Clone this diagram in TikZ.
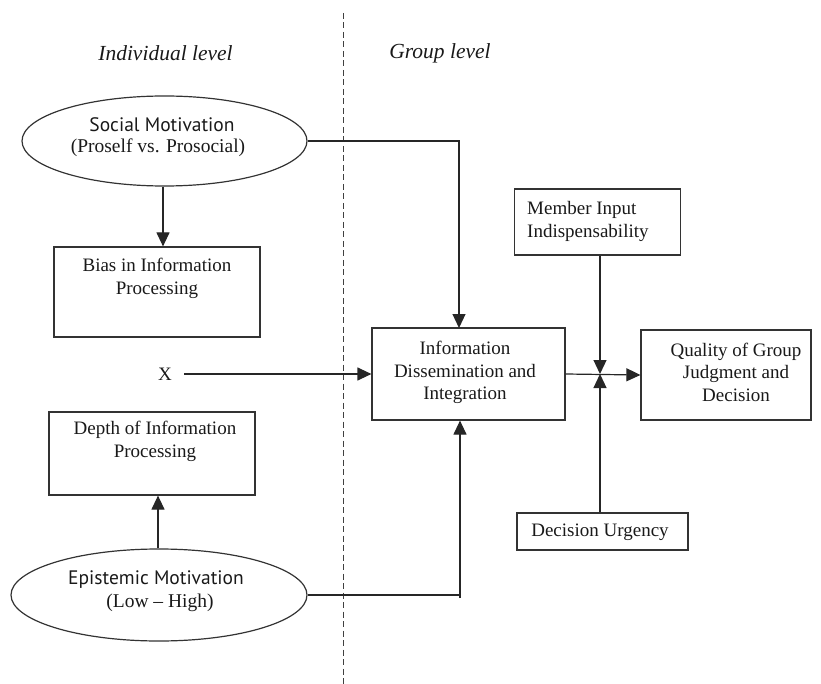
\documentclass[tikz,border=0pt]{standalone}
\usepackage{fontspec}
\setmainfont{Liberation Serif}
\newfontfamily\headsans{PT Sans}
\usetikzlibrary{arrows.meta,shapes.geometric}

\begin{document}
\begin{tikzpicture}[x=1pt,y=-1pt,
  line/.style={draw=black!85, line width=1.2pt},
  arr/.style={line, -{Triangle[length=14pt,width=13pt]}},
  box/.style={draw=black!80, line width=1.2pt, rectangle, inner sep=0pt},
  ell/.style={draw=black!80, line width=1.2pt, ellipse, inner sep=0pt},
  txt/.style={align=center, inner sep=0pt, text=black!90,
    font=\fontsize{19}{22.5}\selectfont},
  txtl/.style={txt, align=left},
  head/.style={align=center, inner sep=0pt, text=black!90,
    font=\headsans\fontsize{19.5}{23}\selectfont},
  sub/.style={align=center, inner sep=0pt, text=black!90,
    font=\fontsize{19.5}{23}\selectfont},
  level/.style={inner sep=0pt, text=black!90,
    font=\itshape\fontsize{21.5}{24}\selectfont},
  divider/.style={draw=black!75, line width=0.9pt, dash pattern=on 6pt off 3.5pt}
]
\useasboundingbox (0,0) rectangle (821,684);

% column divider and headings
\coordinate (divTop) at (343,13);
\coordinate (divBot) at (343,684);
\draw[divider] (divTop) -- (divBot);
\node[level] (indiv) at (165.5,53) {Individual level};
\node[level] (group) at (440,53) {Group level};

% individual level
\node[ell, minimum width=285, minimum height=90] (social) at (164.5,141) {};
\node[head] (socialHead) at (162,125) {Social Motivation};
\node[sub] (socialSub) at (158,148) {(Proself vs. Prosocial)};

\node[box, minimum width=206, minimum height=90] (bias) at (157,292) {};
\node[txt] (biasTxt) at (157,278.5) {Bias in Information\\Processing};

\node[txt] (x) at (165,374) {X};

\node[box, minimum width=206, minimum height=83] (depth) at (152,453.5) {};
\node[txt] (depthTxt) at (155,441.5) {Depth of Information\\Processing};

\node[ell, minimum width=296, minimum height=92] (epi) at (159,595) {};
\node[head] (epiHead) at (156,580) {Epistemic Motivation};
\node[sub] (epiSub) at (160,603) {(Low -- High)};

% group level
\node[box, minimum width=193, minimum height=92] (info) at (468.5,374) {};
\node[txt] (infoTxt) at (465,372.5) {Information\\Dissemination and\\Integration};

\node[box, minimum width=166, minimum height=66] (member) at (597.5,222) {};
\node[txtl, anchor=west] (memberTxt) at (527,221.5) {Member Input\\Indispensability};

\node[box, minimum width=170, minimum height=90] (quality) at (726,375) {};
\node[txt] (qualityTxt) at (736,372) {Quality of Group\\Judgment and\\Decision};

\node[box, minimum width=171, minimum height=37] (urgency) at (602.5,531.5) {};
\node[txt] (urgencyTxt) at (600,532) {Decision Urgency};

% connectors
\coordinate (socIn) at (459,328);
\coordinate (epiIn) at (460,598);
\coordinate (junc) at (600,374);

\draw[arr] (social.south -| 163,0) -- (163,0 |- bias.north);
\draw[arr] (epi.north -| 158,0) -- (158,0 |- depth.south);
\draw[arr] (social.east) -| (socIn);
\draw[line] (epi.east) -- (epi.east -| epiIn);
\draw[arr] (epiIn) -- (epiIn |- info.south);
\draw[arr] (x.east) ++(12,0) -- (info.west);
\draw[arr] (info.east) -- (quality.west);
\draw[arr] (junc |- member.south) -- (junc);
\draw[arr] (junc |- urgency.north) -- (junc);
\end{tikzpicture}
\end{document}
